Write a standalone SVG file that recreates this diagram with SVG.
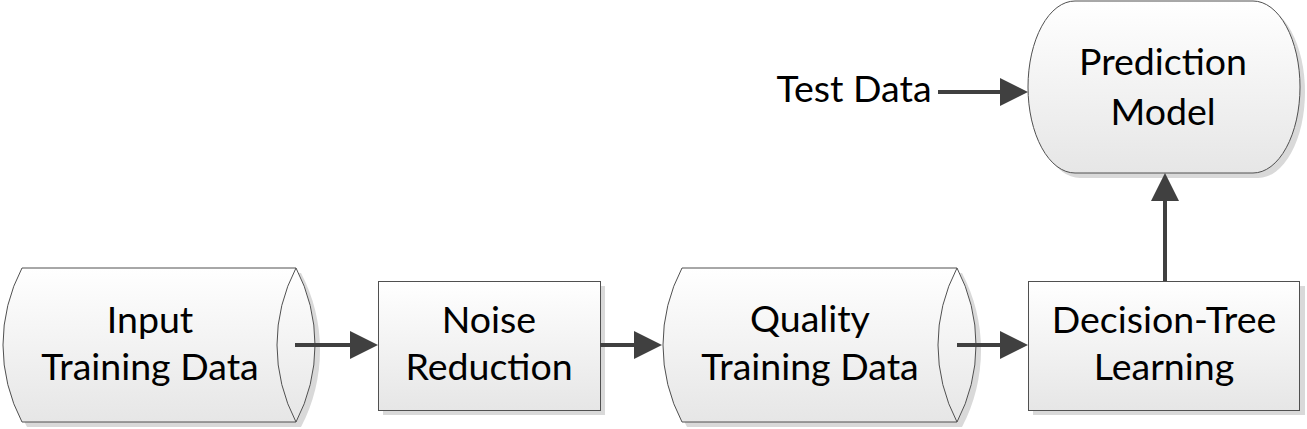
<svg xmlns="http://www.w3.org/2000/svg" width="1307" height="429" viewBox="0 0 1307 429">
<defs>
<linearGradient id="g" x1="0" y1="0" x2="0" y2="1">
<stop offset="0" stop-color="#ffffff"/>
<stop offset="1" stop-color="#e6e6e6"/>
</linearGradient>
<marker id="ah" viewBox="0 0 28 28" refX="0" refY="14" markerWidth="28" markerHeight="28" markerUnits="userSpaceOnUse" orient="auto">
<path d="M0,0 L28,14 L0,28 Z" fill="#404040"/>
</marker>
</defs>
<style>
.sh{fill:#d9d9d9;stroke:none}
.body{fill:url(#g);stroke:#505050;stroke-width:1}
.line{fill:none;stroke:#505050;stroke-width:1}
.t{font-family:Lato,"Liberation Sans",sans-serif;font-size:37.5px;fill:#000;text-anchor:middle}
.c{fill:none;stroke:#404040;stroke-width:4;marker-end:url(#ah)}
</style>
<g id="input">
<path class="sh" transform="translate(5,5)" d="M22,268 H296 A165.5,165.5 0 0 1 296,422 H22 A165.5,165.5 0 0 1 22,268 Z"/>
<path class="body" d="M22,268 H296 A165.5,165.5 0 0 1 296,422 H22 A165.5,165.5 0 0 1 22,268 Z"/>
<path class="line" d="M296,268 A165.5,165.5 0 0 0 296,422"/>
<text class="t" x="150" y="333">Input</text>
<text class="t" x="150" y="380">Training Data</text>
</g>
<g id="noise">
<rect class="sh" x="383" y="286" width="222" height="129"/>
<rect class="body" x="378.5" y="281.5" width="222" height="129"/>
<text class="t" x="489" y="333">Noise</text>
<text class="t" x="489" y="380">Reduction</text>
</g>
<g id="quality">
<path class="sh" transform="translate(5,5)" d="M682,268 H957 A165.5,165.5 0 0 1 957,422 H682 A165.5,165.5 0 0 1 682,268 Z"/>
<path class="body" d="M682,268 H957 A165.5,165.5 0 0 1 957,422 H682 A165.5,165.5 0 0 1 682,268 Z"/>
<path class="line" d="M957,268 A165.5,165.5 0 0 0 957,422"/>
<text class="t" x="810" y="332">Quality</text>
<text class="t" x="810" y="380">Training Data</text>
</g>
<g id="decision">
<rect class="sh" x="1033" y="286" width="272" height="129"/>
<rect class="body" x="1028.5" y="281.5" width="271" height="129"/>
<text class="t" x="1164" y="333">Decision-Tree</text>
<text class="t" x="1164" y="380">Learning</text>
</g>
<g id="prediction">
<path class="sh" transform="translate(5,5)" d="M1075,1 H1253 A47,86 0 0 1 1253,173 H1075 A47,86 0 0 1 1075,1 Z"/>
<path class="body" d="M1075,1 H1253 A47,86 0 0 1 1253,173 H1075 A47,86 0 0 1 1075,1 Z"/>
<text class="t" x="1163" y="75">Prediction</text>
<text class="t" x="1163" y="125">Model</text>
</g>
<g id="testdata">
<text class="t" x="854" y="102">Test Data</text>
</g>
<g id="connectors">
<path class="c" d="M295,345 H350"/>
<path class="c" d="M600,345 H634"/>
<path class="c" d="M957,345 H1000"/>
<path class="c" d="M1165,281 V201"/>
<path class="c" d="M938,92 H1000"/>
</g>
</svg>
